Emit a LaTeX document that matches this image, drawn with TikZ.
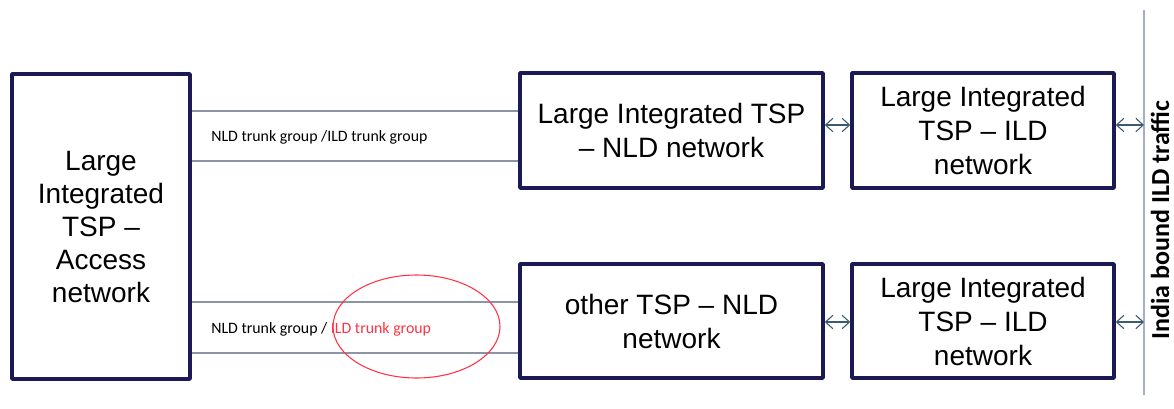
\documentclass[tikz,border=0pt]{standalone}
\usepackage{fontspec}
\setmainfont{Liberation Sans}
\newfontfamily\calfont{Carlito}
\usetikzlibrary{arrows.meta,shapes.geometric}
\definecolor{boxc}{HTML}{1C1A55}
\definecolor{linec}{HTML}{8A96A6}
\definecolor{arrc}{HTML}{3D5A6E}
\definecolor{vlinec}{HTML}{A8AEC8}
\definecolor{redc}{HTML}{FF3344}
\tikzset{
  netbox/.style={draw=boxc, line width=2.6pt, line join=round, rectangle, align=center,
    inner sep=0pt, font=\fontsize{21pt}{25.5pt}\selectfont},
  trunk/.style={draw=linec, line width=1pt},
  biarrow/.style={draw=arrc, line width=0.8pt, {Straight Barb[length=5.5pt,width=10pt]}-{Straight Barb[length=5.5pt,width=10pt]}},
  lbl/.style={anchor=west, inner sep=0pt, font=\calfont\fontsize{11.9pt}{13pt}\selectfont}
}
\begin{document}
\begin{tikzpicture}[x=0.75pt, y=-0.75pt]
\useasboundingbox (0,0) rectangle (1174,408);
\node[netbox, minimum width=178*0.75pt, minimum height=305*0.75pt, font=\fontsize{21pt}{24.75pt}\selectfont] (L) at (101,226.5)
  {Large\\Integrated\\TSP --\\Access\\network};
\node[netbox, minimum width=303*0.75pt, minimum height=115*0.75pt] (TM) at (671.5,130.5)
  {Large Integrated TSP\\-- NLD network};
\node[netbox, minimum width=262*0.75pt, minimum height=115*0.75pt] (TR) at (983,130.5)
  {Large Integrated\\TSP -- ILD\\network};
\node[netbox, minimum width=303*0.75pt, minimum height=114*0.75pt] (BM) at (671.5,321)
  {other TSP -- NLD\\network};
\node[netbox, minimum width=262*0.75pt, minimum height=114*0.75pt] (BR) at (983,321)
  {Large Integrated\\TSP -- ILD\\network};
\coordinate (VT) at (1144,10);
\coordinate (VB) at (1144,395);
\draw[draw=vlinec, line width=1.3pt] (VT) -- (VB);
\node[rotate=90, inner sep=0pt, font=\calfont\bfseries\fontsize{19.5pt}{21pt}\selectfont] (IB) at (1160,220) {India bound ILD traffic};
% trunk lines
\draw[trunk] (L.east |- 0,111) -- (TM.west |- 0,111);
\draw[trunk] (L.east |- 0,161) -- (TM.west |- 0,161);
\draw[trunk] (L.east |- 0,302) -- (BM.west |- 0,302);
\draw[trunk] (L.east |- 0,353) -- (BM.west |- 0,353);
\node[lbl] (T1) at (211,137) {NLD trunk group /ILD trunk group};
\node[lbl] (T2) at (211,329) {NLD trunk group / \textcolor{redc}{ILD trunk group}};
\node[draw=redc, line width=0.8pt, ellipse, minimum width=167*0.75pt, minimum height=103*0.75pt, inner sep=0pt] (E) at (416.5,326.5) {};
% arrows
\draw[biarrow] (TM.east |- 0,125) -- (TR.west |- 0,125);
\draw[biarrow] (TR.east |- 0,125) -- (VT |- 0,125);
\draw[biarrow] (BM.east |- 0,322) -- (BR.west |- 0,322);
\draw[biarrow] (BR.east |- 0,322) -- (VT |- 0,322);
\end{tikzpicture}
\end{document}
